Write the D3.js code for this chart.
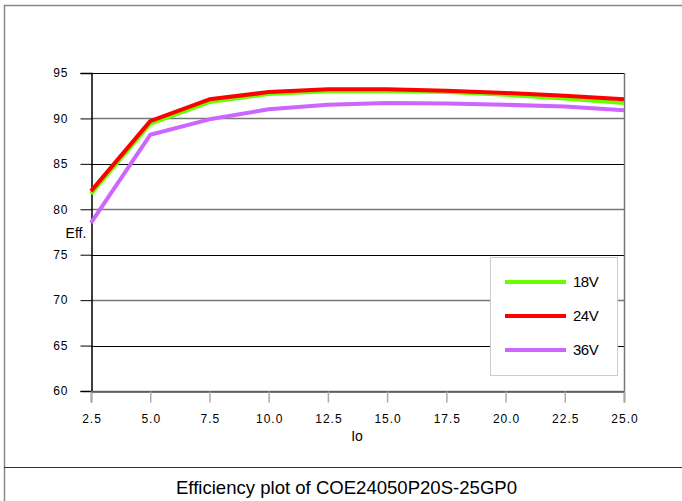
<!DOCTYPE html>
<html><head><meta charset="utf-8">
<script src="https://cdn.jsdelivr.net/npm/d3@7"></script>
<style>body{margin:0;background:#fff}svg{display:block;font-family:"Liberation Sans",Arial,sans-serif}</style>
</head><body><svg id="c" width="682" height="501"></svg>
<script>
const io = [2.5, 5.0, 7.5, 10.0, 12.5, 15.0, 17.5, 20.0, 22.5, 25.0];
const eff18 = [81.7, 89.4, 91.8, 92.7, 93.0, 93.0, 92.9, 92.6, 92.2, 91.7];
const eff24 = [82.0, 89.7, 92.1, 92.9, 93.2, 93.2, 93.05, 92.8, 92.5, 92.1];
const eff36 = [78.5, 88.2, 89.9, 91.0, 91.5, 91.7, 91.65, 91.5, 91.3, 90.9];
const seriesNames = ["18V", "24V", "36V"];
const seriesColors = ["#66ff00", "#ff0000", "#cc66ff"];
const yTicks = [60, 65, 70, 75, 80, 85, 90, 95];
const xTicks = [2.5, 5.0, 7.5, 10.0, 12.5, 15.0, 17.5, 20.0, 22.5, 25.0];
const title = "Efficiency plot of COE24050P20S-25GP0";

const svg = d3.select("#c");
const L = 91, R = 624, T = 73, B = 391;
const x = d3.scaleLinear().domain([2.5, 25]).range([L, R]);
const y = d3.scaleLinear().domain([60, 95]).range([B, T]);

// outer frame
svg.append("path").attr("d", "M4.5,501 V5.5 H682").attr("fill", "none").attr("stroke", "#888").attr("stroke-width", 1.5);
svg.append("line").attr("x1", 4).attr("x2", 682).attr("y1", 467.5).attr("y2", 467.5).attr("stroke", "#333").attr("stroke-width", 1);

// grid
svg.append("g").selectAll("line").data(yTicks).join("line")
  .attr("x1", L).attr("x2", R)
  .attr("y1", d => Math.round(y(d)) + 0.5).attr("y2", d => Math.round(y(d)) + 0.5)
  .attr("stroke", (d, i) => i % 2 === 0 ? "#777" : "#000")
  .attr("stroke-width", (d, i) => i % 2 === 0 ? 1.5 : 1);

// right border
svg.append("line").attr("x1", R + 0.5).attr("x2", R + 0.5).attr("y1", T).attr("y2", B)
  .attr("stroke", "#777").attr("stroke-width", 1.5);

// y axis
const ya = svg.append("g").attr("transform", `translate(${L + 0.5},0)`)
  .call(d3.axisLeft(y).tickValues(yTicks).tickSize(11).tickPadding(12).tickFormat(d3.format("d")));
ya.select(".domain").attr("stroke", "#000").attr("stroke-width", 1.5);
ya.selectAll(".tick line").attr("stroke", "#000");
ya.selectAll("text").attr("font-size", 12).attr("letter-spacing", 1).attr("fill", "#000").attr("font-family", "Liberation Sans, Arial, sans-serif");

// x axis
const xa = svg.append("g").attr("transform", `translate(0,${B + 0.5})`)
  .call(d3.axisBottom(x).tickValues(xTicks).tickSize(11).tickPadding(12).tickFormat(d3.format(".1f")));
xa.select(".domain").attr("stroke", "#555").attr("stroke-width", 1.5);
xa.selectAll(".tick line").attr("stroke", "#aaa").attr("stroke-width", 1.5);
xa.selectAll("text").attr("font-size", 12).attr("letter-spacing", 1).attr("dx", 0.5).attr("fill", "#000").attr("font-family", "Liberation Sans, Arial, sans-serif");

// labels
svg.append("text").attr("x", 76).attr("y", 238).attr("text-anchor", "middle").attr("font-size", 14).text("Eff.");
svg.append("text").attr("x", 357).attr("y", 441).attr("text-anchor", "middle").attr("font-size", 14).text("Io");
svg.append("text").attr("x", 176).attr("y", 494).attr("font-size", 19)
  .attr("textLength", 341).attr("lengthAdjust", "spacingAndGlyphs").text(title);

// lines
const data = [eff18, eff24, eff36];
const line = d3.line().x((d, i) => x(io[i])).y(d => y(d));
const drawOrder = [2, 0, 1];
svg.append("g").selectAll("path").data(drawOrder).join("path")
  .attr("d", k => line(data[k]))
  .attr("fill", "none").attr("stroke", k => seriesColors[k]).attr("stroke-width", 4).attr("stroke-linejoin", "round");

// legend
const lg = svg.append("g");
lg.append("rect").attr("x", 490.5).attr("y", 257.5).attr("width", 127).attr("height", 118)
  .attr("fill", "#fff").attr("stroke", "#ccc").attr("stroke-width", 1);
seriesNames.forEach((n, i) => {
  const yy = 282 + i * 34;
  lg.append("line").attr("x1", 505).attr("x2", 566).attr("y1", yy).attr("y2", yy)
    .attr("stroke", seriesColors[i]).attr("stroke-width", 4);
  lg.append("text").attr("x", 573).attr("y", yy + 5).attr("font-size", 15).attr("letter-spacing", -0.5).text(n);
});
</script></body></html>
